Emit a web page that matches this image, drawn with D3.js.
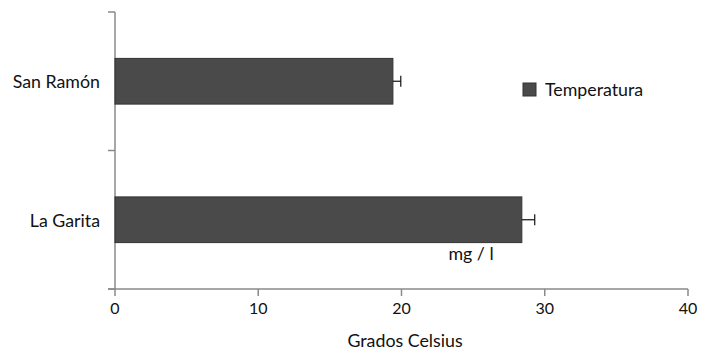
<!DOCTYPE html>
<html>
<head>
<meta charset="utf-8">
<script src="https://cdn.jsdelivr.net/npm/d3@7"></script>
<style>
html,body{margin:0;padding:0;background:#fff;}
svg{display:block;font-family:Lato, "Open Sans", sans-serif;}
</style>
</head>
<body>
<svg id="chart" width="718" height="361"></svg>
<script>
const categories = ["San Ramón", "La Garita"];
const temperatura = [19.4, 28.4];
const errors = [0.55, 0.9];
const xTicks = [0, 10, 20, 30, 40];
const seriesName = "Temperatura";
const xTitle = "Grados Celsius";
const unitLabel = "mg / l";

const svg = d3.select("#chart");
const mLeft = 115, mRight = 688, mTop = 12, mBottom = 289;

const x = d3.scaleLinear().domain([0, 40]).range([mLeft, mRight]);
const y = d3.scaleBand().domain(categories).range([mTop, mBottom]).paddingInner(0.67).paddingOuter(0.335);
const yb = d3.scaleBand().domain(categories).range([mTop, mBottom]);

const axisColor = "#8a8a8a";
const textSize = 17.8;

// y axis line and ticks at band boundaries
svg.append("line").attr("x1", mLeft).attr("x2", mLeft).attr("y1", mTop).attr("y2", mBottom)
  .attr("stroke", axisColor).attr("stroke-width", 1.5);
const bounds = [mTop].concat(categories.map(c => yb(c) + yb.bandwidth()));
svg.selectAll(".ytick").data(bounds).enter().append("line")
  .attr("x1", mLeft - 7).attr("x2", mLeft).attr("y1", d => d).attr("y2", d => d)
  .attr("stroke", axisColor).attr("stroke-width", 1.5);

// x axis
svg.append("line").attr("x1", mLeft - 7).attr("x2", mRight).attr("y1", mBottom).attr("y2", mBottom)
  .attr("stroke", axisColor).attr("stroke-width", 1.5);
svg.selectAll(".xtick").data(xTicks).enter().append("line")
  .attr("x1", d => x(d)).attr("x2", d => x(d)).attr("y1", mBottom).attr("y2", mBottom + 7)
  .attr("stroke", axisColor).attr("stroke-width", 1.5);
svg.selectAll(".xlab").data(xTicks).enter().append("text")
  .attr("x", d => x(d)).attr("y", 314).attr("text-anchor", "middle")
  .attr("font-size", 16).attr("fill", "#111").text(d => d);
svg.append("text").attr("x", 405).attr("y", 347).attr("text-anchor", "middle")
  .attr("font-size", textSize).attr("fill", "#111").text(xTitle);

// category labels
svg.selectAll(".ylab").data(categories).enter().append("text")
  .attr("x", 100).attr("y", d => yb(d) + yb.bandwidth() / 2 + 7).attr("text-anchor", "end")
  .attr("font-size", textSize).attr("fill", "#111").text(d => d);

// bars
svg.selectAll(".bar").data(categories).enter().append("rect")
  .attr("x", x(0)).attr("y", d => y(d))
  .attr("width", (d, i) => x(temperatura[i]) - x(0)).attr("height", y.bandwidth())
  .attr("fill", "#4a4a4a").attr("stroke", "#333").attr("stroke-width", 1);

// error bars (one-sided)
categories.forEach((c, i) => {
  const cy = y(c) + y.bandwidth() / 2;
  const x1 = x(temperatura[i]), x2 = x(temperatura[i] + errors[i]);
  svg.append("line").attr("x1", x1).attr("x2", x2).attr("y1", cy).attr("y2", cy)
    .attr("stroke", "#111").attr("stroke-width", 1.2);
  svg.append("line").attr("x1", x2).attr("x2", x2).attr("y1", cy - 5.5).attr("y2", cy + 5.5)
    .attr("stroke", "#111").attr("stroke-width", 1.2);
});

// unit label
svg.append("text").attr("x", 471).attr("y", 260).attr("text-anchor", "middle")
  .attr("font-size", textSize).attr("fill", "#111").text(unitLabel);

// legend
svg.append("rect").attr("x", 523).attr("y", 83).attr("width", 13).attr("height", 13)
  .attr("fill", "#4a4a4a").attr("stroke", "#333");
svg.append("text").attr("x", 545).attr("y", 96).attr("font-size", textSize).attr("fill", "#111").text(seriesName);
</script>
</body>
</html>
